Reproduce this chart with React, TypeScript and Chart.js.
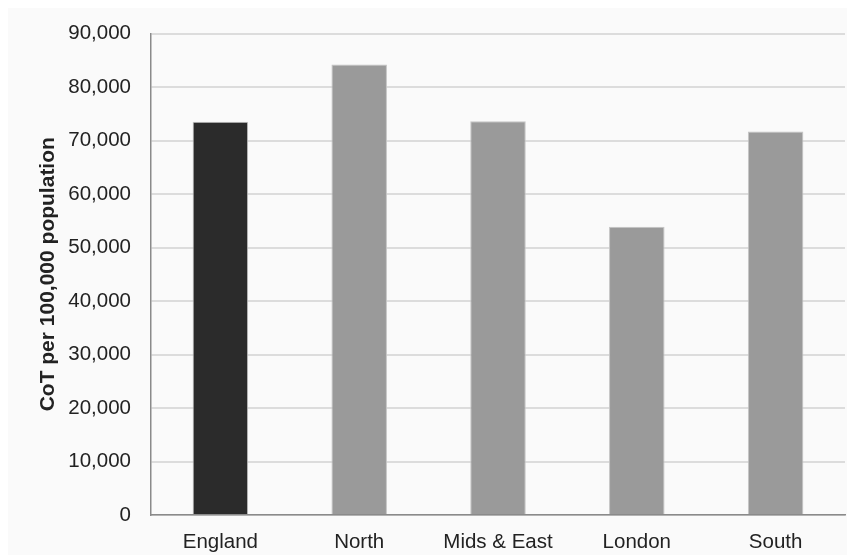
import React, { useEffect, useRef } from "react";
import { Chart, registerables } from "chart.js";

Chart.register(...registerables);

const categories = ["England", "North", "Mids & East", "London", "South"];
const values = [73500, 84200, 73600, 53900, 71700];
const barColors = ["#2b2b2b", "#9a9a9a", "#9a9a9a", "#9a9a9a", "#9a9a9a"];
const yTitle = "CoT per 100,000 population";
const yMax = 90000;
const yStep = 10000;

const bgPlugin = {
  id: "bgFill",
  beforeDraw(chart: any) {
    const ctx = chart.ctx;
    ctx.save();
    ctx.fillStyle = "#fafafa";
    ctx.fillRect(0, 0, chart.width, chart.height);
    ctx.restore();
  },
};

export default function App() {
  const ref = useRef<HTMLCanvasElement>(null);
  useEffect(() => {
    if (!ref.current) return;
    const font = "'Liberation Sans', Arial, sans-serif";
    const chart = new Chart(ref.current, {
      type: "bar",
      data: {
        labels: categories,
        datasets: [
          {
            data: values,
            backgroundColor: barColors,
            borderColor: "#c4c4c4",
            borderWidth: 1,
            categoryPercentage: 1,
            barPercentage: 0.4,
          },
        ],
      },
      options: {
        responsive: false,
        animation: false,
        devicePixelRatio: 1,
        layout: { padding: { top: 25.5, right: 2, left: 0, bottom: 0 } },
        plugins: { legend: { display: false }, tooltip: { enabled: false } },
        scales: {
          x: {
            grid: { display: false, drawTicks: false },
            border: { color: "#8a8a8a", width: 1.5 },
            ticks: { color: "#222", font: { family: font, size: 20.5 }, padding: 15 },
            afterFit: (s: any) => {
              s.height = 40;
              s.paddingLeft = 0;
              s.paddingRight = 0;
            },
          },
          y: {
            min: 0,
            max: yMax,
            grid: { color: "#dcdcdc", lineWidth: 2, drawTicks: false },
            border: { color: "#8a8a8a", width: 1.5 },
            ticks: {
              stepSize: yStep,
              color: "#222",
              font: { family: font, size: 20.5 },
              padding: 20,
              callback: (v: any) => Number(v).toLocaleString("en-US"),
            },
            title: {
              display: true,
              text: yTitle,
              color: "#222",
              font: { family: font, size: 21, weight: "bold" },
              padding: { top: 28, bottom: 0 },
            },
            afterFit: (s: any) => {
              s.width = 143;
              s.paddingTop = 0;
              s.paddingBottom = 0;
            },
          },
        },
      },
      plugins: [bgPlugin],
    });
    return () => chart.destroy();
  }, []);
  return <canvas ref={ref} width={839} height={547} style={{ display: "block" }} />;
}
